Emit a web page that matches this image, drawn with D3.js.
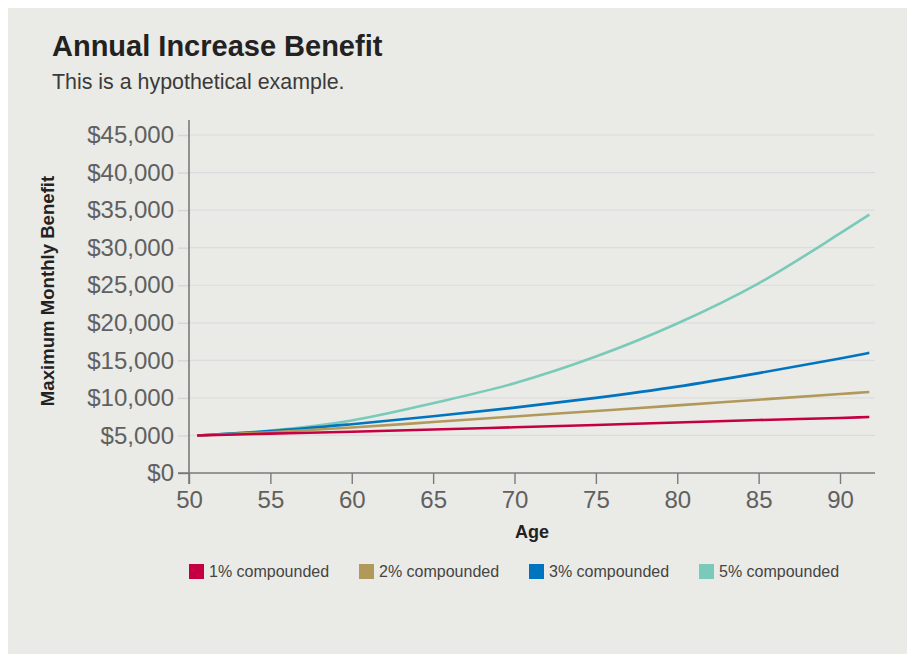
<!DOCTYPE html>
<html>
<head>
<meta charset="utf-8">
<script src="https://cdn.jsdelivr.net/npm/d3@7"></script>
<style>
  html, body { margin: 0; padding: 0; background: #ffffff; }
  svg { display: block; font-family: "Liberation Sans", Arial, sans-serif; }
</style>
</head>
<body>
<svg width="910" height="654"></svg>
<script>
// values
const ages = [50.5, 55, 60, 65, 70, 75, 80, 85, 90, 91.8];
const pct1 = [5000, 5240, 5500, 5790, 6090, 6400, 6730, 7050, 7330, 7450];
const pct2 = [5000, 5420, 6050, 6780, 7530, 8260, 9000, 9760, 10520, 10790];
const pct3 = [5000, 5580, 6500, 7550, 8700, 10000, 11500, 13300, 15250, 16000];
const pct5 = [5000, 5650, 7000, 9300, 11950, 15500, 19900, 25250, 31900, 34400];

const seriesNames = ["1% compounded", "2% compounded", "3% compounded", "5% compounded"];
const seriesValues = [pct1, pct2, pct3, pct5];
const seriesColors = ["#c40043", "#b1995b", "#0074bf", "#7acaba"];

const yTicks = [0, 5000, 10000, 15000, 20000, 25000, 30000, 35000, 40000, 45000];
const xTicks = [50, 55, 60, 65, 70, 75, 80, 85, 90];

(function() {
    'use strict';
    let svg = d3.select("svg");

    // panel
    svg.append("rect")
        .attr("x", 8).attr("y", 8)
        .attr("width", 899).attr("height", 646)
        .attr("fill", "#eaeae6");

    let left = 189, right = 875, top = 120, bottom = 473;

    let x = d3.scaleLinear().domain([50, 92.15]).range([left, right]);
    let y = d3.scaleLinear().domain([0, 47000]).range([bottom, top]);

    // title block
    svg.append("text")
        .attr("x", 52).attr("y", 56)
        .style("font-size", "29px").style("font-weight", "bold")
        .attr("fill", "#222222")
        .text("Annual Increase Benefit");
    svg.append("text")
        .attr("x", 52).attr("y", 89)
        .style("font-size", "21.4px")
        .attr("fill", "#3a3a3a")
        .text("This is a hypothetical example.");

    // gridlines
    svg.append("g")
        .selectAll("line")
        .data(yTicks.filter(d => d > 0))
        .join("line")
        .attr("x1", left).attr("x2", right)
        .attr("y1", d => y(d)).attr("y2", d => y(d))
        .attr("stroke", "#dcdcde").attr("stroke-width", 1.2);

    // y axis
    let yAxis = d3.axisLeft(y)
        .tickValues(yTicks)
        .tickSize(11)
        .tickPadding(4)
        .tickFormat(d => "$" + d3.format(",")(d));
    let gy = svg.append("g").attr("transform", `translate(${left},0)`).call(yAxis);
    gy.select(".domain").remove();
    gy.append("line")
        .attr("x1", 0).attr("x2", 0)
        .attr("y1", top).attr("y2", bottom + 11)
        .attr("stroke", "#7a7a7a").attr("stroke-width", 1.6);
    gy.selectAll(".tick line").attr("stroke", "#7a7a7a").attr("stroke-width", 1.4);
    gy.selectAll(".tick line").filter(d => d > 0).attr("stroke", "#d6d6d8");
    gy.selectAll(".tick text")
        .style("font-size", "24px").style("font-family", "Liberation Sans, Arial, sans-serif")
        .attr("fill", "#606060");

    // x axis
    let xAxis = d3.axisBottom(x)
        .tickValues(xTicks)
        .tickSize(11)
        .tickPadding(7);
    let gx = svg.append("g").attr("transform", `translate(0,${bottom})`).call(xAxis);
    gx.select(".domain").remove();
    gx.append("line")
        .attr("x1", left - 11).attr("x2", right)
        .attr("y1", 0).attr("y2", 0)
        .attr("stroke", "#7a7a7a").attr("stroke-width", 1.6);
    gx.selectAll(".tick line").attr("stroke", "#7a7a7a").attr("stroke-width", 1.4);
    gx.selectAll(".tick text")
        .style("font-size", "24px").style("font-family", "Liberation Sans, Arial, sans-serif")
        .attr("fill", "#606060");

    // axis titles
    svg.append("text")
        .attr("text-anchor", "middle")
        .attr("transform", `translate(54,291)rotate(-90)`)
        .style("font-size", "18.6px").style("font-weight", "bold")
        .attr("fill", "#222222")
        .text("Maximum Monthly Benefit");
    svg.append("text")
        .attr("text-anchor", "middle")
        .attr("x", 532).attr("y", 538)
        .style("font-size", "18px").style("font-weight", "bold")
        .attr("fill", "#222222")
        .text("Age");

    // lines, 5% first so the red line ends up on top
    let line = d3.line()
        .x((d, i) => x(ages[i]))
        .y(d => y(d))
        .curve(d3.curveMonotoneX);

    for (let i = seriesValues.length - 1; i >= 0; i--) {
        svg.append("path")
            .attr("d", line(seriesValues[i]))
            .attr("fill", "none")
            .attr("stroke", seriesColors[i])
            .attr("stroke-width", 2.6);
    }

    // legend
    let legendX = [189, 359, 529, 699];
    let legend = svg.append("g")
        .selectAll("g")
        .data(seriesNames)
        .join("g")
        .attr("transform", (d, i) => `translate(${legendX[i]},564)`);
    legend.append("rect")
        .attr("width", 15).attr("height", 15)
        .attr("fill", (d, i) => seriesColors[i]);
    legend.append("text")
        .attr("x", 20).attr("y", 12.5)
        .style("font-size", "16px")
        .attr("fill", "#444444")
        .text(d => d);
})();
</script>
</body>
</html>
